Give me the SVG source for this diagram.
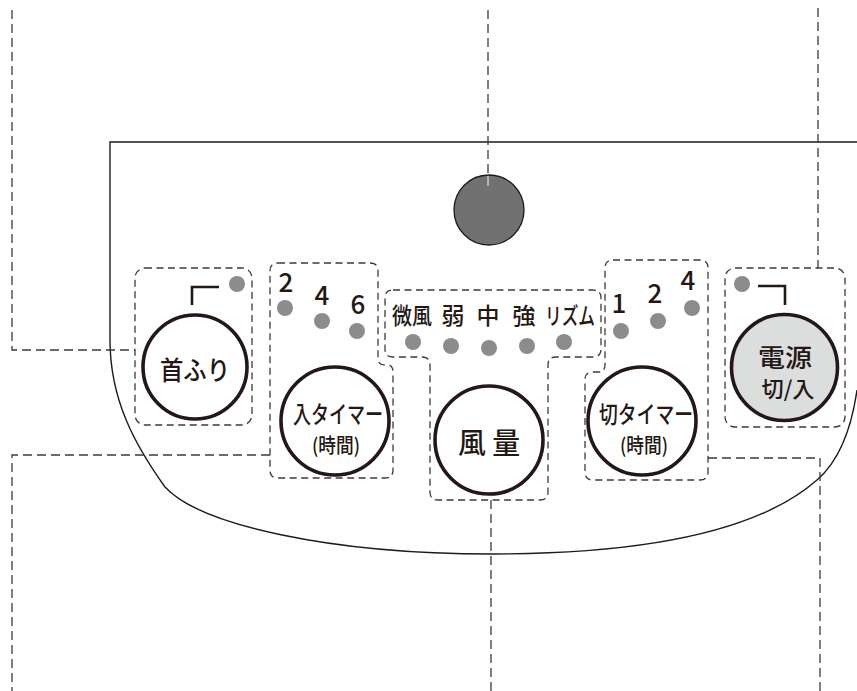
<svg xmlns="http://www.w3.org/2000/svg" width="857" height="691" viewBox="0 0 857 691">
<style>
.panel{fill:none;stroke:#231815;stroke-width:1.4}
.lead{fill:none;stroke:#3e3a39;stroke-width:1.3;stroke-dasharray:9 5}
.box{fill:none;stroke:#3e3a39;stroke-width:1.3;stroke-dasharray:7 4.5}
.btn{fill:#fff;stroke:#231815;stroke-width:3.6}
.led{fill:#8c8c8c}
.brk{fill:none;stroke:#231815;stroke-width:2.6}
text{font-family:"Noto Sans CJK JP","Noto Sans",sans-serif;font-weight:500;fill:#231815;text-anchor:middle}
.num{font-size:26px}
.lbl{font-size:23px}
</style>
<rect width="857" height="691" fill="#fff"/>
<g id="panel">
<path class="panel" d="M 857 142 H 110 V 340 C 110 400 135 445 165 487 C 200 525 330 554 492 554 C 650 554 760 530 817 480 C 840 460 852 425 857 390"/>
<circle cx="489" cy="210" r="35" fill="#727171" stroke="#231815" stroke-width="1.3"/>
</g>
<g id="connectors">
<path class="lead" d="M 12 10 V 350 H 135"/>
<path class="lead" d="M 488 10 V 175"/>
<line x1="488" y1="176" x2="488" y2="186" stroke="#d8d8d8" stroke-width="1.3"/>
<path class="lead" d="M 818 8 V 268"/>
<path class="lead" d="M 270 455 H 12 V 691"/>
<path class="lead" d="M 491 500 V 691"/>
<path class="lead" d="M 708 458 H 820 V 691"/>
</g>
<g id="node-kubifuri">
<rect class="box" x="135" y="268" width="117" height="157" rx="10"/>
<circle class="led" cx="237" cy="284" r="8"/>
<path class="brk" d="M 192 305 V 287 H 219"/>
<circle class="btn" cx="195" cy="367" r="52"/>
<text x="195" y="380" font-size="26" textLength="70" lengthAdjust="spacingAndGlyphs">首ふり</text>
</g>
<g id="node-iri-timer">
<path class="box" d="M 278 263 H 370 Q 378 263 378 271 V 358 Q 378 365 385 365 H 387 Q 393 365 393 372 V 470 Q 393 478 385 478 H 278 Q 270 478 270 470 V 271 Q 270 263 278 263 Z"/>
<text class="num" x="286" y="292">2</text>
<text class="num" x="322" y="305">4</text>
<text class="num" x="358" y="314">6</text>
<circle class="led" cx="285" cy="308" r="8"/>
<circle class="led" cx="322" cy="321" r="8"/>
<circle class="led" cx="357" cy="331" r="8"/>
<circle class="btn" cx="335" cy="421" r="54"/>
<text x="338" y="423" font-size="24" textLength="90" lengthAdjust="spacingAndGlyphs">入タイマー</text>
<text x="336" y="453" font-size="20" textLength="48" lengthAdjust="spacingAndGlyphs">(時間)</text>
</g>
<g id="node-fuuryou">
<path class="box" d="M 393 290 H 593 Q 601 290 601 298 V 349 Q 601 357 593 357 H 556 Q 548 357 548 365 V 492 Q 548 500 540 500 H 438 Q 430 500 430 492 V 365 Q 430 357 422 357 H 393 Q 385 357 385 349 V 298 Q 385 290 393 290 Z"/>
<text class="lbl" x="412" y="324" textLength="40" lengthAdjust="spacingAndGlyphs">微風</text>
<text class="lbl" x="453" y="324">弱</text>
<text class="lbl" x="488" y="324">中</text>
<text class="lbl" x="524" y="324">強</text>
<text class="lbl" x="570" y="324" textLength="50" lengthAdjust="spacingAndGlyphs">リズム</text>
<circle class="led" cx="413" cy="342" r="8"/>
<circle class="led" cx="451" cy="346" r="8"/>
<circle class="led" cx="489" cy="348" r="8"/>
<circle class="led" cx="527" cy="346" r="8"/>
<circle class="led" cx="564" cy="342" r="8"/>
<circle class="btn" cx="489" cy="440" r="54"/>
<text x="489" y="454" font-size="29" textLength="62" lengthAdjust="spacingAndGlyphs">風 量</text>
</g>
<g id="node-kiri-timer">
<path class="box" d="M 613 260 H 700 Q 708 260 708 268 V 472 Q 708 480 700 480 H 593 Q 585 480 585 472 V 380 Q 585 372 593 372 H 598 Q 605 372 605 365 V 268 Q 605 260 613 260 Z"/>
<text class="num" x="619" y="313">1</text>
<text class="num" x="655" y="303">2</text>
<text class="num" x="688" y="290">4</text>
<circle class="led" cx="621" cy="331" r="8"/>
<circle class="led" cx="658" cy="321" r="8"/>
<circle class="led" cx="692" cy="308" r="8"/>
<circle class="btn" cx="642" cy="421" r="54"/>
<text x="646" y="423" font-size="24" textLength="94" lengthAdjust="spacingAndGlyphs">切タイマー</text>
<text x="644" y="453" font-size="20" textLength="48" lengthAdjust="spacingAndGlyphs">(時間)</text>
</g>
<g id="node-dengen">
<rect class="box" x="725" y="268" width="120" height="159" rx="10"/>
<circle class="led" cx="742" cy="284" r="8"/>
<path class="brk" d="M 758 286 H 785 V 305"/>
<circle class="btn" cx="784.5" cy="367.5" r="53" style="fill:#dcdddd"/>
<text x="785" y="367" font-size="25" textLength="54" lengthAdjust="spacingAndGlyphs">電源</text>
<text x="788" y="397" font-size="22" textLength="53" lengthAdjust="spacingAndGlyphs">切/入</text>
</g>
</svg>
